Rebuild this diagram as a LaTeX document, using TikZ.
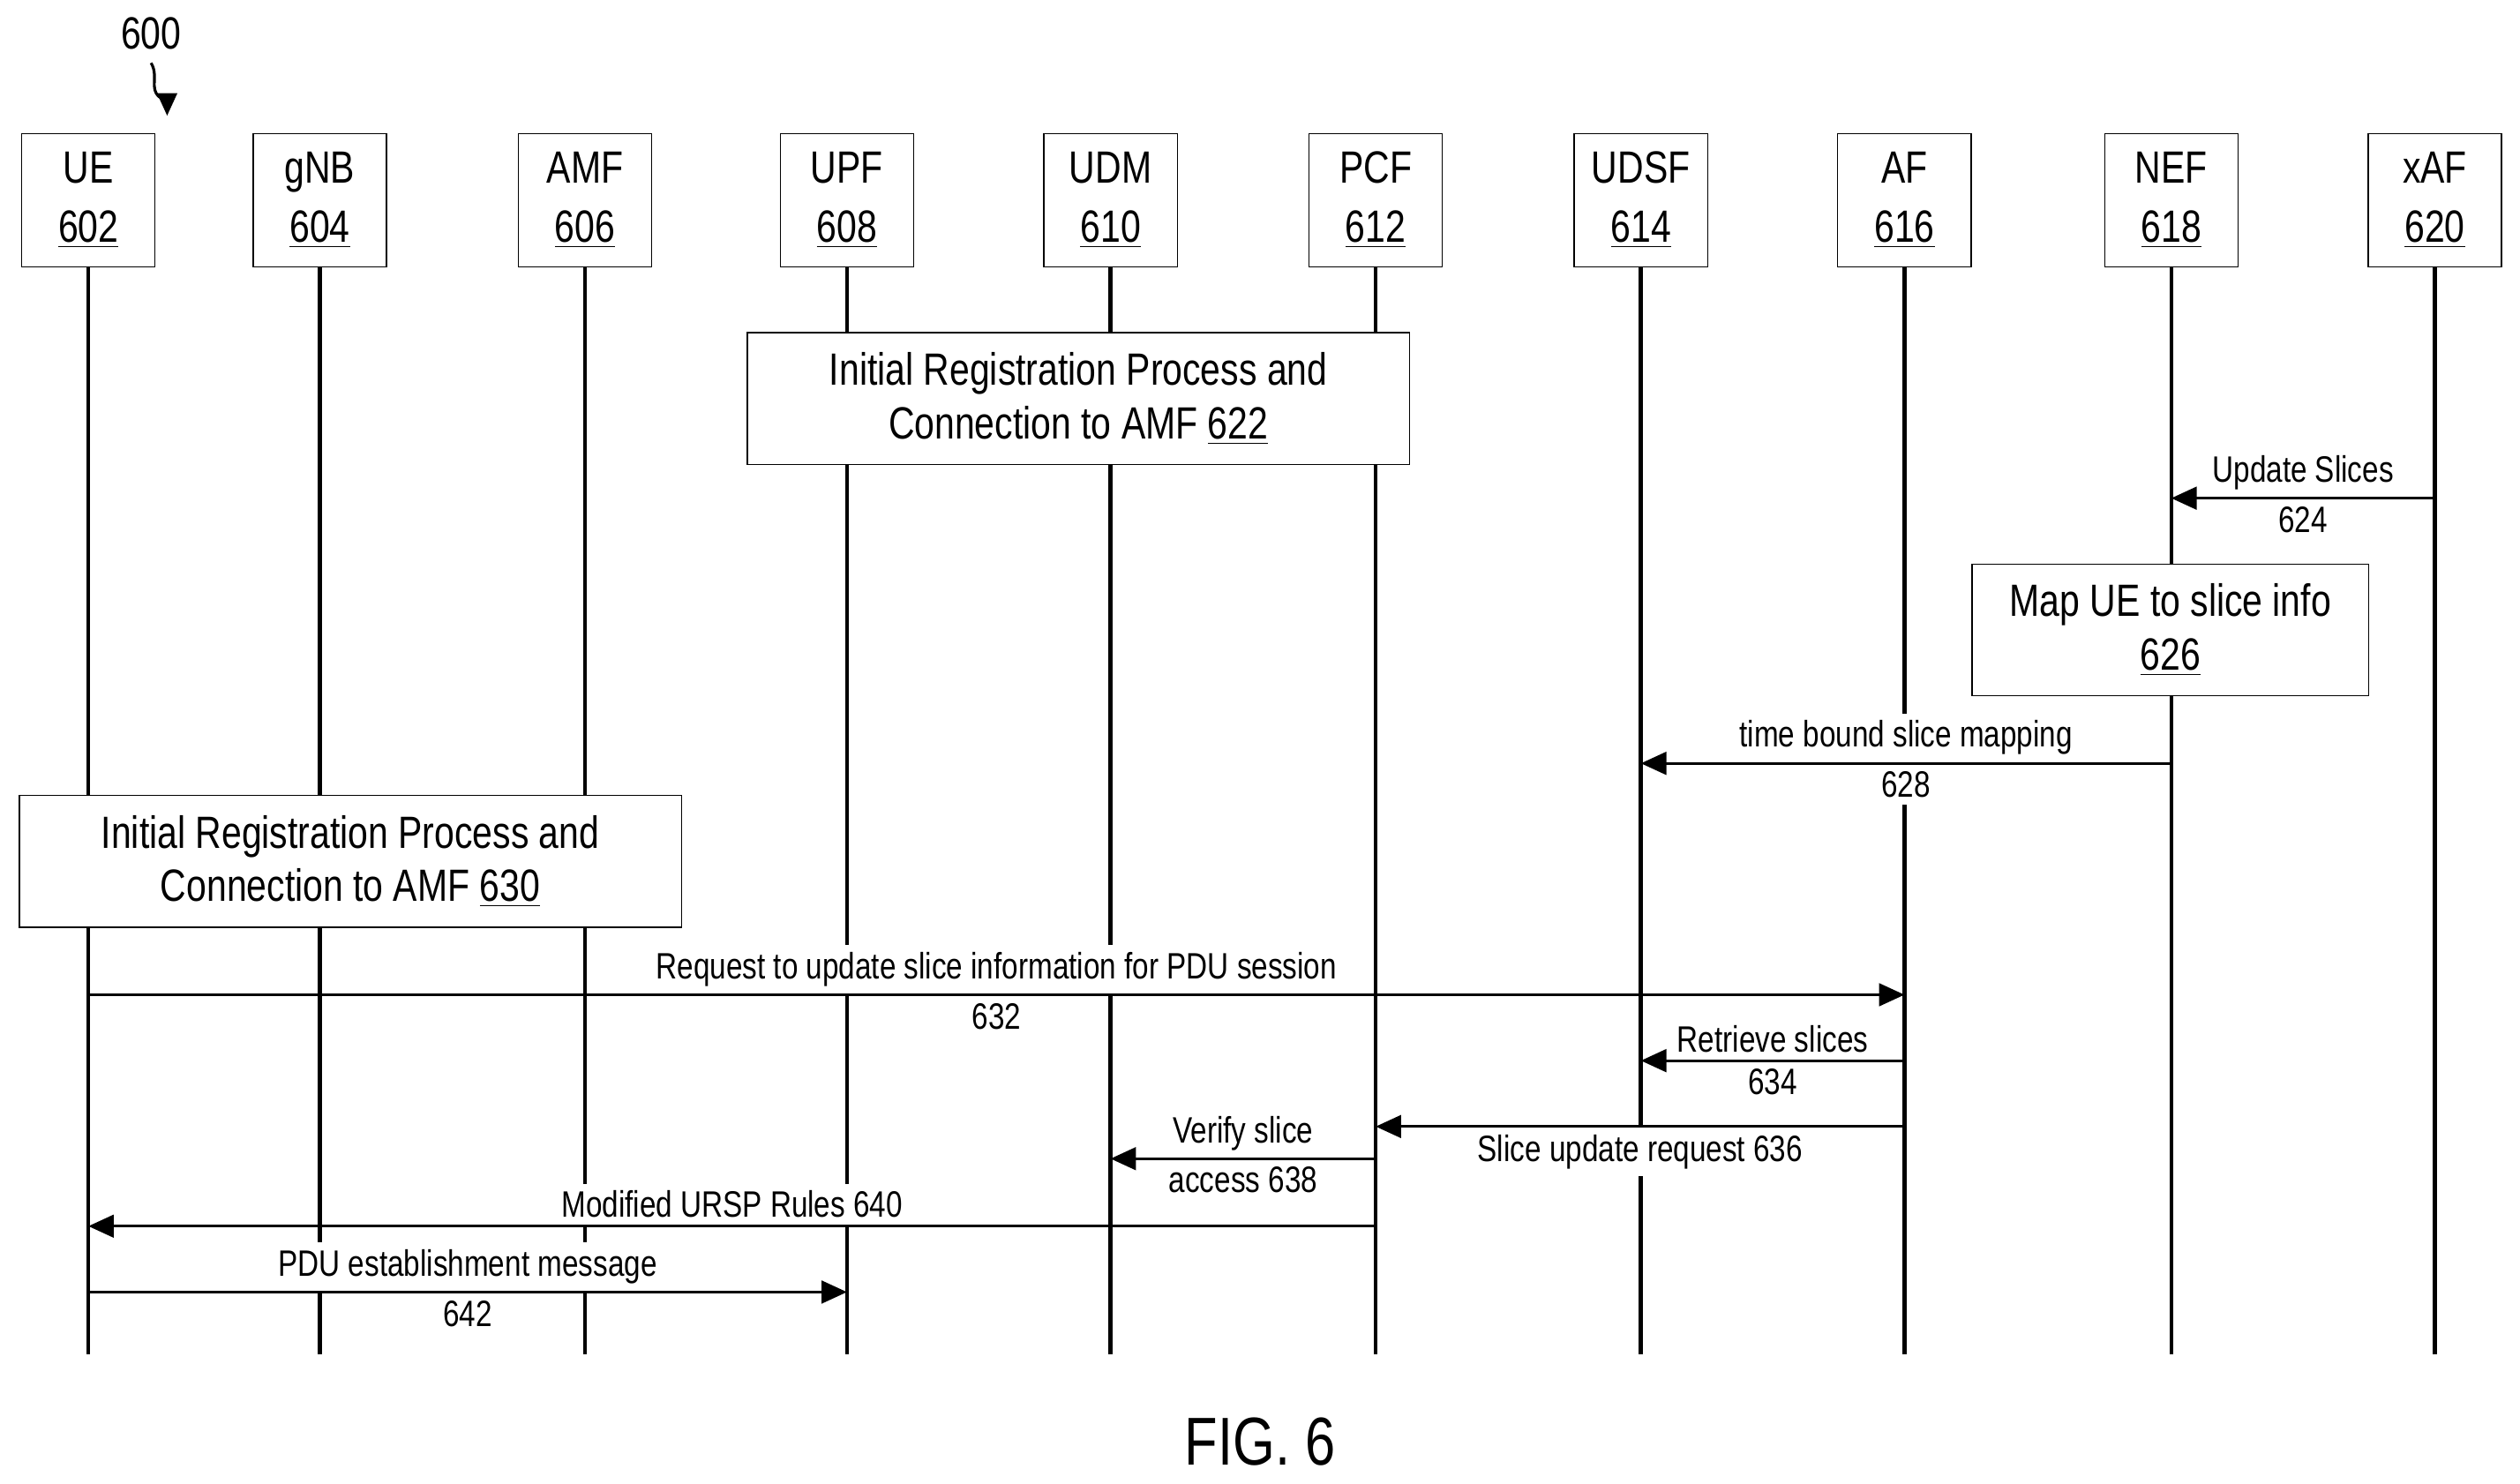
\documentclass[tikz,border=0pt]{standalone}
\usepackage{fontspec}
\setmainfont{Liberation Sans}[FakeStretch=0.8]
\usetikzlibrary{arrows.meta, positioning, decorations.pathmorphing}
\begin{document}
\begin{tikzpicture}[
    x=0.02cm, y=-0.02cm,
    entity/.style={draw, fill=white, minimum width=1.66cm, minimum height=1.66cm, font=\fontsize{16}{19}\selectfont, align=center, inner sep=1pt},
    procbox/.style={draw, fill=white, font=\fontsize{16}{19}\selectfont, align=center, inner sep=0pt},
    life/.style={line width=1.4pt},
    arrow/.style={-{Triangle[length=9pt, width=8pt]}, line width=1pt},
    label/.style={font=\fontsize{13}{15}\selectfont, fill=white, inner sep=2.5pt}
]
    \useasboundingbox (0,0) rectangle (1568,923);
    % Lifelines
    \foreach \name/\x in {ue/55, gnb/199, amf/364, upf/527, udm/691, pcf/856, udsf/1021, af/1185, nef/1351, xaf/1515} {
        \coordinate (\name-end) at (\x,843);
        \draw[life] (\x,166) -- (\name-end);
    }
    % Entities
    \foreach \name/\txt/\num/\x in {ue/UE/602/55, gnb/gNB/604/199, amf/AMF/606/364, upf/UPF/608/527, udm/UDM/610/691, pcf/PCF/612/856, udsf/UDSF/614/1021, af/AF/616/1185, nef/NEF/618/1351, xaf/xAF/620/1515}
        \node[entity] (\name) at (\x,124.5) {\txt\\[2pt]\underline{\num}};
    % Process boxes
    \node[procbox, minimum width=8.24cm, minimum height=1.64cm] (reg1) at (671,248) {Initial Registration Process and\\Connection to AMF \underline{622}};
    \node[procbox, minimum width=4.94cm, minimum height=1.64cm] (map) at (1350.5,392) {Map UE to slice info\\\underline{626}};
    \node[procbox, minimum width=8.24cm, minimum height=1.64cm] (reg2) at (218,536) {Initial Registration Process and\\Connection to AMF \underline{630}};
    % Messages
    \coordinate (xaf-624) at (1515,310); \coordinate (nef-624) at (1351,310);
    \draw[arrow] (xaf-624) -- (nef-624) node[label, midway, above] {Update Slices} node[label, midway, below] {624};
    \coordinate (nef-628) at (1351,475); \coordinate (udsf-628) at (1021,475);
    \draw[arrow] (nef-628) -- (udsf-628) node[label, midway, above] {time bound slice mapping} node[label, midway, below] {628};
    \coordinate (ue-632) at (55,619); \coordinate (af-632) at (1185,619);
    \draw[arrow] (ue-632) -- (af-632) node[label, pos=0.5, above] {Request to update slice information for PDU session} node[label, pos=0.5, below] {632};
    \coordinate (af-634) at (1185,660); \coordinate (udsf-634) at (1021,660);
    \draw[arrow] (af-634) -- (udsf-634) node[label, midway, above] {Retrieve slices} node[label, midway, below] {634};
    \coordinate (af-636) at (1185,701); \coordinate (pcf-636) at (856,701);
    \draw[arrow] (af-636) -- (pcf-636) node[label, pos=0.5, below] {Slice update request 636};
    \coordinate (pcf-638) at (856,721); \coordinate (udm-638) at (691,721);
    \draw[arrow] (pcf-638) -- (udm-638) node[label, midway, above] {Verify slice} node[label, midway, below] {access 638};
    \coordinate (pcf-640) at (856,763); \coordinate (ue-640) at (55,763);
    \draw[arrow] (pcf-640) -- (ue-640) node[label, pos=0.5, above] {Modified URSP Rules 640};
    \coordinate (ue-642) at (55,804); \coordinate (upf-642) at (527,804);
    \draw[arrow] (ue-642) -- (upf-642) node[label, midway, above] {PDU establishment message} node[label, midway, below] {642};
    % Figure labels
    \node[font=\fontsize{16}{19}\selectfont] (fignum) at (94,21) {600};
    \coordinate (fig-tip) at (104,72);
    \draw[-{Triangle[length=8pt, width=7pt]}, line width=1pt] (fignum.south) ++(0,2) to[out=-60, in=90] ++(2,14) to[out=-90, in=90] (fig-tip);
    \node[font=\fontsize{24}{28}\selectfont] (fig) at (784,897) {FIG. 6};
\end{tikzpicture}
\end{document}
